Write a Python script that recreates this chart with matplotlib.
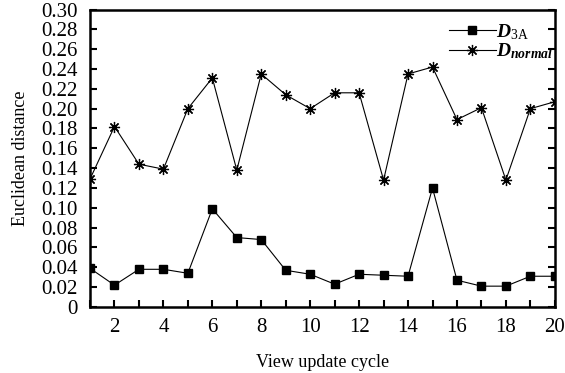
import matplotlib
matplotlib.use("Agg")
import matplotlib.pyplot as plt

cycles = list(range(1, 21))
d_3a = [0.039, 0.022, 0.038, 0.038, 0.034, 0.099, 0.070, 0.068, 0.037, 0.033,
        0.023, 0.033, 0.032, 0.031, 0.120, 0.027, 0.021, 0.021, 0.031, 0.031]
d_normal = [0.129, 0.182, 0.144, 0.139, 0.200, 0.231, 0.138, 0.235, 0.214, 0.200,
            0.216, 0.216, 0.128, 0.235, 0.242, 0.189, 0.201, 0.128, 0.200, 0.207]
y_ticks = [0, 0.02, 0.04, 0.06, 0.08, 0.10, 0.12, 0.14, 0.16, 0.18, 0.20,
           0.22, 0.24, 0.26, 0.28, 0.30]
y_tick_labels = ["0"] + ["%.2f" % v for v in y_ticks[1:]]
x_major = [2, 4, 6, 8, 10, 12, 14, 16, 18, 20]

plt.rcParams['font.family'] = ['Liberation Serif', 'DejaVu Serif']
plt.rcParams['mathtext.fontset'] = 'custom'
plt.rcParams['mathtext.rm'] = 'Liberation Serif'
plt.rcParams['mathtext.it'] = 'Liberation Serif:italic'
plt.rcParams['mathtext.bf'] = 'Liberation Serif:bold'
plt.rcParams['mathtext.bfit'] = 'Liberation Serif:italic:bold'

fig = plt.figure(figsize=(5.65, 3.73), dpi=100)
ax = fig.add_axes([0.1593, 0.177, 0.8227, 0.7975])

ax.plot(cycles, d_3a, color='black', lw=0.8, marker='s', ms=5.5,
        label=r'$\mathbfit{D}_{\mathrm{3A}}$')
ax.plot(cycles, d_normal, color='black', lw=0.8, marker=(8, 2, 0), ms=8,
        mew=0.9, label=r'$\mathbfit{D}_{\mathbfit{normal}}$')

ax.set_xlim(1, 20)
ax.set_ylim(0, 0.30)
ax.set_yticks(y_ticks)
ax.set_yticklabels(y_tick_labels)
ax.set_xticks(x_major)
ax.set_xticks(cycles, minor=True)

for s in ax.spines.values():
    s.set_linewidth(1.8)

ax.tick_params(axis='both', which='both', direction='in', width=1.5,
               labelsize=15, right=True, top=False)
ax.tick_params(axis='both', which='major', length=5)
ax.tick_params(axis='x', which='minor', length=5)
ax.tick_params(axis='x', pad=8)
ax.tick_params(axis='y', pad=9)

ax.set_xlabel('View update cycle', fontsize=13, labelpad=12)
ax.set_ylabel('Euclidean distance', fontsize=13, labelpad=9)

leg = ax.legend(loc='upper right', bbox_to_anchor=(1.0, 0.965), frameon=False,
                fontsize=14, handlelength=2.4, handletextpad=0.0,
                labelspacing=0.0, borderaxespad=0.0, borderpad=0.1)

fig.savefig('out.png', dpi=100)
